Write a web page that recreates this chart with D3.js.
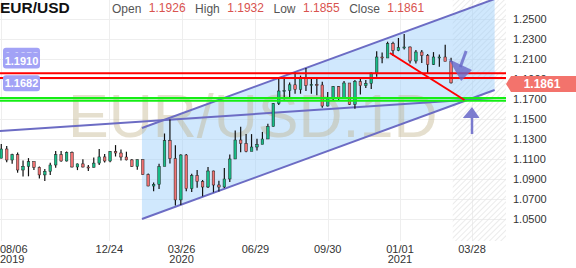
<!DOCTYPE html>
<html>
<head>
<meta charset="utf-8">
<script src="https://cdn.jsdelivr.net/npm/d3@7"></script>
<style>
  body { margin: 0; background: #fff; }
  svg { display: block; font-family: "Liberation Sans", Arial, sans-serif; }
</style>
</head>
<body>
<div id="root"></div>
<script>
// weekly EUR/USD candles, first week starts Monday 2019-08-05
var firstWeek = new Date(2019, 7, 5);
var firstOpen = 1.1108;
var high = [1.1250, 1.1230, 1.1153, 1.1165, 1.1085, 1.1109, 1.1075, 1.1025, 1.0999, 1.1063,
            1.1179, 1.1180, 1.1175, 1.1175, 1.1055, 1.1097, 1.1040, 1.1116, 1.1200, 1.1150,
            1.1180, 1.1239, 1.1195, 1.1173, 1.1100, 1.1096, 1.1095, 1.0955, 1.0865, 1.1053,
            1.1355, 1.1495, 1.1237, 1.1147, 1.1150, 1.0952, 1.0990, 1.0890, 1.1019, 1.0984,
            1.0882, 1.1009, 1.1146, 1.1384, 1.1422, 1.1349, 1.1349, 1.1302, 1.1371, 1.1452,
            1.1660, 1.1909, 1.1916, 1.1866, 1.1966, 1.1934, 1.2011, 1.1917, 1.1901, 1.1872,
            1.1770, 1.1831, 1.1830, 1.1881, 1.1860, 1.1891, 1.1920, 1.1891, 1.1964, 1.2177,
            1.2166, 1.2273, 1.2273, 1.2310, 1.2349, 1.2224, 1.2190, 1.2190, 1.2150, 1.2169,
            1.2145, 1.2243, 1.2113];
var low = [1.1107, 1.1067, 1.1052, 1.0963, 1.0926, 1.0927, 1.0990, 1.0904, 1.0879, 1.0940,
           1.1012, 1.1072, 1.1075, 1.1015, 1.0989, 1.1014, 1.0981, 1.1015, 1.1040, 1.1066,
           1.1068, 1.1125, 1.1086, 1.1086, 1.1019, 1.0993, 1.0942, 1.0827, 1.0778, 1.0800,
           1.1052, 1.1055, 1.0636, 1.0640, 1.0778, 1.0769, 1.0813, 1.0727, 1.0811, 1.0767,
           1.0775, 1.0810, 1.0870, 1.1100, 1.1168, 1.1168, 1.1190, 1.1185, 1.1255, 1.1343,
           1.1426, 1.1640, 1.1696, 1.1711, 1.1753, 1.1753, 1.1781, 1.1752, 1.1737, 1.1612,
           1.1625, 1.1685, 1.1689, 1.1700, 1.1640, 1.1603, 1.1745, 1.1810, 1.1800, 1.1923,
           1.2058, 1.2111, 1.2129, 1.2178, 1.2194, 1.2055, 1.2055, 1.2060, 1.1952, 1.2040,
           1.2023, 1.2089, 1.1855];
var close = [1.1200, 1.1090, 1.1143, 1.0990, 1.1027, 1.1074, 1.1017, 1.0941, 1.0977, 1.1040,
             1.1143, 1.1080, 1.1165, 1.1020, 1.1051, 1.1020, 1.1017, 1.1059, 1.1121, 1.1080,
             1.1175, 1.1160, 1.1120, 1.1091, 1.1025, 1.1093, 1.0944, 1.0830, 1.0847, 1.1025,
             1.1284, 1.1105, 1.0691, 1.1140, 1.0803, 1.0935, 1.0875, 1.0820, 1.0980, 1.0840,
             1.0820, 1.0900, 1.1100, 1.1290, 1.1255, 1.1175, 1.1220, 1.1245, 1.1300, 1.1425,
             1.1655, 1.1780, 1.1785, 1.1842, 1.1795, 1.1905, 1.1835, 1.1845, 1.1840, 1.1630,
             1.1715, 1.1825, 1.1715, 1.1860, 1.1647, 1.1875, 1.1833, 1.1856, 1.1960, 1.2120,
             1.2110, 1.2255, 1.2185, 1.2215, 1.2220, 1.2080, 1.2170, 1.2135, 1.2045, 1.2120,
             1.2120, 1.2075, 1.1861];

var priceTicks = [1.05, 1.07, 1.09, 1.11, 1.13, 1.15, 1.17, 1.19, 1.21, 1.23, 1.25];
var dateTicks = [new Date(2019, 7, 6), new Date(2019, 11, 24), new Date(2020, 2, 26),
                 new Date(2020, 5, 29), new Date(2020, 8, 30), new Date(2021, 0, 1), new Date(2021, 2, 28)];
var dateLabels = [["08/06", "2019"], ["12/24"], ["03/26", "2020"], ["06/29"], ["09/30"], ["01/01", "2021"], ["03/28"]];

var headerLabels = ["Open", "High", "Low", "Close"];
var headerValues = ["1.1926", "1.1932", "1.1855", "1.1861"];
var lastClose = 1.1861;

var redLevels = [1.1958, 1.1910];
var greenLevels = [1.1710, 1.1682];
var badgeLevels = [1.1958, 1.1910, 1.1682];

// drawings
var channelDates = [new Date(2020, 1, 4), new Date(2021, 3, 24)];
var channelTop = [1.141, 1.270];
var channelBottom = [1.050, 1.179];
var trendLine = [[new Date(2019, 7, 5), 1.138], [new Date(2021, 3, 24), 1.171]];
var redDiagonal = [[new Date(2020, 11, 19), 1.216], [new Date(2021, 2, 19), 1.169]];
var arrowDownShaft = [[new Date(2021, 2, 21), 1.218], [new Date(2021, 2, 14), 1.202]];
var arrowDownHead = [[new Date(2021, 1, 28), 1.210], [new Date(2021, 2, 28), 1.199], [new Date(2021, 2, 15), 1.188]];
var arrowUpShaft = [[new Date(2021, 2, 28), 1.151], [new Date(2021, 2, 28), 1.135]];
var arrowUpHead = [[new Date(2021, 2, 28), 1.162], [new Date(2021, 2, 17), 1.151], [new Date(2021, 3, 6), 1.151]];
var futureStart = new Date(2021, 2, 5);

var width = 576, height = 268;
var plotW = 506, plotH = 241;

var svg = d3.select("#root").append("svg")
    .attr("width", width)
    .attr("height", height);

var x = d3.scaleTime()
    .domain([dateTicks[0], dateTicks[5], dateTicks[6]])
    .range([0.5, 400, 472]);
var y = d3.scaleLinear()
    .domain([1.05, 1.25])
    .range([219, 19]);

var defs = svg.append("defs");
defs.append("clipPath").attr("id", "plot")
    .append("rect").attr("width", plotW).attr("height", plotH);
var pat = defs.append("pattern")
    .attr("id", "hatch")
    .attr("width", 4).attr("height", 4)
    .attr("patternUnits", "userSpaceOnUse")
    .attr("patternTransform", "rotate(45)");
pat.append("line")
    .attr("x1", 0).attr("y1", 0).attr("x2", 0).attr("y2", 4)
    .attr("stroke", "#e4e4e4").attr("stroke-width", 1.5);

var plot = svg.append("g").attr("clip-path", "url(#plot)");

// grid
plot.selectAll(".hgrid").data(priceTicks).join("line")
    .attr("x1", 0).attr("x2", plotW)
    .attr("y1", d => Math.round(y(d)) + 0.5).attr("y2", d => Math.round(y(d)) + 0.5)
    .attr("stroke", "#eeeeee");
plot.selectAll(".vgrid").data(dateTicks).join("line")
    .attr("x1", d => Math.round(x(d)) + 0.5).attr("x2", d => Math.round(x(d)) + 0.5)
    .attr("y1", 0).attr("y2", plotH)
    .attr("stroke", "#eeeeee");

// future zone
plot.append("rect")
    .attr("x", x(futureStart)).attr("y", 0)
    .attr("width", plotW - x(futureStart)).attr("height", plotH)
    .attr("fill", "url(#hatch)");

// channel fill
var pt = d => [x(d[0]), y(d[1])];
var channel = [[channelDates[0], channelTop[0]], [channelDates[1], channelTop[1]],
               [channelDates[1], channelBottom[1]], [channelDates[0], channelBottom[0]]];
plot.append("polygon")
    .attr("points", channel.map(pt).join(" "))
    .attr("fill", "rgb(150,205,250)")
    .attr("fill-opacity", 0.45);

// watermark
plot.append("text")
    .attr("x", 68).attr("y", 137)
    .attr("font-size", 61)
    .attr("fill", "#bfae84")
    .attr("fill-opacity", 0.4)
    .text("EUR/USD.1D");

var line = d3.line().x(d => x(d[0])).y(d => y(d[1]));

// purple trend lines
plot.append("path").attr("d", line(trendLine))
    .attr("stroke", "#6c6cc4").attr("stroke-width", 2).attr("fill", "none");
plot.append("path").attr("d", line([channel[0], channel[1]]))
    .attr("stroke", "#6c6cc4").attr("stroke-width", 2).attr("fill", "none");
plot.append("path").attr("d", line([channel[3], channel[2]]))
    .attr("stroke", "#6c6cc4").attr("stroke-width", 2).attr("fill", "none");

// candles
var candles = close.map((c, i) => ({
    date: d3.timeDay.offset(firstWeek, 7 * i + 2),
    o: i ? close[i - 1] : firstOpen,
    h: high[i], l: low[i], c: c
}));
var cg = plot.append("g");
cg.selectAll(".wick").data(candles).join("line")
    .attr("x1", d => x(d.date)).attr("x2", d => x(d.date))
    .attr("y1", d => y(d.h)).attr("y2", d => y(d.l))
    .attr("stroke", "#111").attr("stroke-width", 1.2);
cg.selectAll(".body").data(candles).join("rect")
    .attr("x", d => x(d.date) - 1.3)
    .attr("width", 2.6)
    .attr("y", d => y(Math.max(d.o, d.c)))
    .attr("height", d => Math.max(1, Math.abs(y(d.o) - y(d.c))))
    .attr("fill", d => d.c >= d.o ? "#18bc88" : "#f07272")
    .attr("stroke", "#222").attr("stroke-width", 0.5);

// horizontal levels
plot.selectAll(".red").data(redLevels).join("line")
    .attr("x1", 0).attr("x2", plotW)
    .attr("y1", d => y(d)).attr("y2", d => y(d))
    .attr("stroke", "#ff0000").attr("stroke-width", 2);
plot.selectAll(".green").data(greenLevels).join("line")
    .attr("x1", 0).attr("x2", plotW)
    .attr("y1", d => y(d)).attr("y2", d => y(d))
    .attr("stroke", "#14ee14").attr("stroke-width", 2);
plot.append("path").attr("d", line(redDiagonal))
    .attr("stroke", "#ff0000").attr("stroke-width", 2).attr("fill", "none");

// arrows
var arrowColor = "#6666c8";
plot.append("path").attr("d", line(arrowDownShaft))
    .attr("stroke", arrowColor).attr("stroke-width", 3).attr("opacity", 0.8);
plot.append("polygon").attr("points", arrowDownHead.map(pt).join(" "))
    .attr("fill", arrowColor).attr("opacity", 0.8);
plot.append("path").attr("d", line(arrowUpShaft))
    .attr("stroke", arrowColor).attr("stroke-width", 2.5).attr("opacity", 0.85);
plot.append("polygon").attr("points", arrowUpHead.map(pt).join(" "))
    .attr("fill", arrowColor).attr("opacity", 0.85);

// level badges on the left
var badges = svg.selectAll(".badge").data(badgeLevels).join("g")
    .attr("transform", d => "translate(3," + (y(d) - 17.5) + ")");
badges.append("rect")
    .attr("x", 0).attr("y", -8).attr("width", 37).attr("height", 16).attr("rx", 3)
    .attr("fill", "#a2a2f6");
badges.append("text")
    .attr("x", 18.5).attr("y", 4)
    .attr("text-anchor", "middle")
    .attr("font-size", 11).attr("font-weight", "bold")
    .attr("fill", "#fff")
    .text(d => d.toFixed(4));

// right axis
var yAxis = svg.append("g")
    .attr("transform", "translate(" + plotW + ",0)")
    .call(d3.axisRight(y).tickValues(priceTicks).tickFormat(d3.format(".4f")).tickSize(0).tickPadding(7));
yAxis.select(".domain").remove();
yAxis.attr("font-family", null).attr("font-size", 11);
yAxis.selectAll("text").attr("fill", "#333");

// last price badge
var cy = y(lastClose) + 1;
svg.append("path")
    .attr("d", "M" + plotW + "," + cy + "L" + (plotW + 5) + "," + (cy - 8) + "H" + width +
               "V" + (cy + 8) + "H" + (plotW + 5) + "Z")
    .attr("fill", "#f3736c");
svg.append("text")
    .attr("x", 542).attr("y", cy + 4.3)
    .attr("text-anchor", "middle")
    .attr("font-size", 12).attr("font-weight", "bold")
    .attr("fill", "#fff")
    .text(lastClose.toFixed(4));

// bottom axis labels
var xl = svg.selectAll(".xlab").data(dateTicks).join("text")
    .attr("font-size", 11).attr("fill", "#333")
    .attr("text-anchor", (d, i) => i === 0 ? "start" : "middle");
xl.each(function (d, i) {
    var t = d3.select(this);
    var px = i === 0 ? 0 : x(d);
    dateLabels[i].forEach((s, k) => {
        t.append("tspan").attr("x", px).attr("y", 253 + k * 10).text(s);
    });
});

// header
svg.append("text")
    .attr("x", 0).attr("y", 12.7)
    .attr("font-size", 15.5).attr("font-weight", "bold")
    .attr("fill", "#111")
    .text("EUR/USD");
var hx = 112;
headerLabels.forEach((lab, i) => {
    var t1 = svg.append("text").attr("x", hx).attr("y", 13)
        .attr("font-size", 12).attr("fill", "#555").text(lab);
    hx += t1.node().getComputedTextLength() + 7.5;
    var t2 = svg.append("text").attr("x", hx).attr("y", 11.5)
        .attr("font-size", 12).attr("fill", "#d9534f").text(headerValues[i]);
    hx += t2.node().getComputedTextLength() + 9.5;
});
</script>
</body>
</html>
